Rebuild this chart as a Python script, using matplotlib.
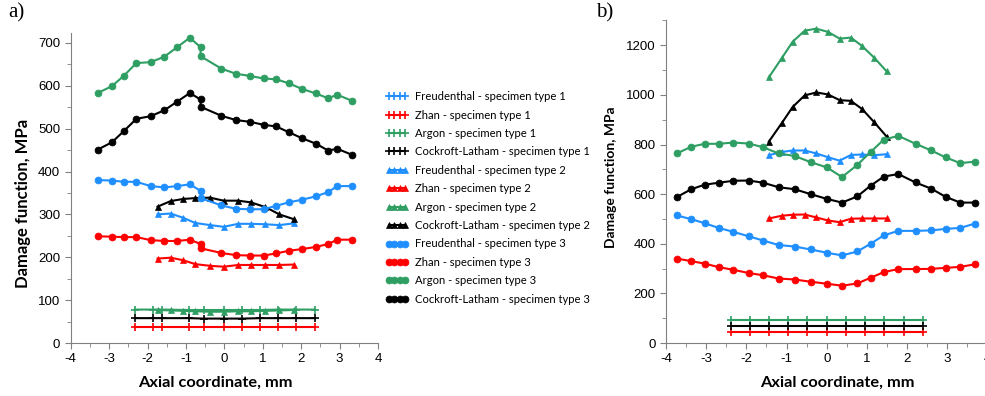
import numpy as np
import matplotlib.pyplot as plt
from matplotlib.ticker import MultipleLocator

# ---- data: panel a) ----
a_x1 = [-2.33, -1.86, -1.62, -0.93, -0.53, 0.0, 0.47, 0.94, 1.40, 1.86, 2.36]
a_freud1 = []
a_zhan1 = [38, 38, 38, 38, 38, 38, 38, 38, 38, 38, 38]
a_argon1 = [78, 78, 78, 77, 77, 77, 77, 77, 78, 78, 78]
a_cl1 = [58, 58, 58, 58, 57, 57, 57, 58, 58, 58, 58]

a_x2 = [-1.74, -1.40, -1.07, -0.76, -0.37, -0.02, 0.36, 0.69, 1.07, 1.43, 1.80]
a_freud2 = [300, 302, 292, 280, 275, 271, 278, 278, 277, 275, 279]
a_zhan2 = [197, 199, 193, 184, 180, 178, 182, 182, 182, 182, 183]
a_argon2 = [77, 76, 75, 74, 73, 73, 74, 74, 75, 76, 77]
a_cl2 = [318, 331, 336, 338, 339, 332, 332, 328, 317, 300, 289]

a_x3 = [-3.30, -2.93, -2.62, -2.29, -1.92, -1.56, -1.23, -0.90, -0.62, -0.62, -0.08,
        0.30, 0.66, 1.02, 1.35, 1.67, 2.01, 2.38, 2.70, 2.94, 3.32]
a_freud3 = [380, 379, 376, 376, 366, 363, 366, 370, 355, 338, 321,
            313, 312, 312, 320, 328, 334, 342, 352, 366, 366]
a_zhan3 = [249, 248, 247, 247, 240, 238, 238, 241, 231, 221, 210,
           205, 204, 204, 209, 215, 219, 224, 231, 241, 241]
a_argon3 = [583, 599, 623, 653, 655, 668, 690, 712, 690, 669, 640,
            628, 623, 617, 615, 606, 593, 582, 571, 579, 565]
a_cl3 = [451, 468, 494, 523, 529, 543, 563, 583, 568, 551, 530,
         520, 516, 509, 505, 492, 478, 465, 449, 453, 439]

# ---- data: panel b) ----
b_x1 = [-2.39, -1.91, -1.43, -0.96, -0.48, 0.0, 0.48, 0.96, 1.43, 1.91, 2.39]
b_freud1 = []
b_zhan1 = [46, 46, 46, 46, 46, 46, 46, 46, 46, 46, 46]
b_argon1 = [94, 94, 94, 94, 94, 94, 94, 94, 94, 94, 94]
b_cl1 = [70, 70, 70, 70, 70, 70, 70, 70, 70, 70, 70]

b_x2 = [-1.44, -1.12, -0.85, -0.55, -0.26, 0.03, 0.32, 0.60, 0.88, 1.18, 1.49]
b_freud2 = [757, 770, 776, 776, 764, 749, 735, 758, 760, 757, 761]
b_zhan2 = [502, 513, 517, 518, 506, 494, 487, 501, 502, 502, 502]
b_argon2 = [1071, 1148, 1214, 1259, 1267, 1254, 1227, 1231, 1197, 1150, 1095]
b_cl2 = [812, 886, 951, 998, 1010, 1002, 979, 976, 943, 890, 832]

b_x3 = [-3.72, -3.37, -3.04, -2.69, -2.32, -1.94, -1.58, -1.20, -0.80, -0.40, 0.0,
        0.38, 0.76, 1.09, 1.42, 1.78, 2.21, 2.60, 2.96, 3.32, 3.68]
b_freud3 = [514, 499, 483, 464, 448, 430, 413, 395, 389, 377, 364,
            353, 369, 400, 434, 452, 452, 454, 460, 464, 481]
b_zhan3 = [340, 330, 320, 306, 295, 282, 273, 260, 256, 247, 239,
           231, 240, 263, 286, 298, 298, 299, 303, 307, 317]
b_argon3 = [765, 791, 803, 803, 808, 804, 789, 764, 754, 729, 708,
            669, 718, 770, 820, 835, 803, 776, 748, 725, 731]
b_cl3 = [589, 620, 638, 646, 654, 655, 646, 628, 620, 600, 581,
         566, 591, 634, 671, 681, 647, 622, 589, 566, 566]

names = ['Freudenthal', 'Zhan', 'Argon', 'Cockroft-Latham']
colors = ['#1f8fff', '#ff0000', '#2e9e62', '#000000']
markers = {1: ('+', 6), 2: ('^', 4), 3: ('o', 5)}

plt.rcParams['font.family'] = 'Liberation Sans'
plt.rcParams['axes.unicode_minus'] = False

fig = plt.figure(figsize=(9.85, 3.96), dpi=100)
ax1 = fig.add_axes([0.0718, 0.1338, 0.312, 0.7828])
ax2 = fig.add_axes([0.6761, 0.1338, 0.3265, 0.8157])

panels = [
    (ax1, {1: (a_x1, [a_freud1, a_zhan1, a_argon1, a_cl1]),
           2: (a_x2, [a_freud2, a_zhan2, a_argon2, a_cl2]),
           3: (a_x3, [a_freud3, a_zhan3, a_argon3, a_cl3])}),
    (ax2, {1: (b_x1, [b_freud1, b_zhan1, b_argon1, b_cl1]),
           2: (b_x2, [b_freud2, b_zhan2, b_argon2, b_cl2]),
           3: (b_x3, [b_freud3, b_zhan3, b_argon3, b_cl3])}),
]

handles = []
for ax, data in panels:
    for t in [1, 2, 3]:
        x, series = data[t]
        m, ms = markers[t]
        for name, col, y in zip(names, colors, series):
            xx = x if len(y) else []
            h, = ax.plot(xx, y, color=col, marker=m, markersize=ms, lw=1.5,
                         markeredgewidth=1.2 if t == 1 else 0.5,
                         label=f'{name} - specimen type {t}')
            if ax is ax1:
                handles.append(h)

for ax, ymax, ystep in [(ax1, 723, 100), (ax2, 1302, 200)]:
    ax.set_xlim(-4, 4)
    ax.set_ylim(0, ymax)
    ax.xaxis.set_major_locator(MultipleLocator(1))
    ax.xaxis.set_minor_locator(MultipleLocator(0.5))
    ax.yaxis.set_major_locator(MultipleLocator(ystep))
    ax.yaxis.set_minor_locator(MultipleLocator(ystep / 2))
    for s in ['top', 'right']:
        ax.spines[s].set_visible(False)
    for s in ['left', 'bottom']:
        ax.spines[s].set_color('#808080')
    ax.tick_params(which='both', direction='out', color='#808080', labelsize=9.5)
    ax.tick_params(which='major', length=4)
    ax.tick_params(which='minor', length=3)

# axis titles placed to match the reference positions
lab = dict(fontweight='bold', family='Lato', ha='center', va='center')
fig.text(0.219, 0.033, 'Axial coordinate, mm', fontsize=11.8, **lab)
fig.text(0.850, 0.033, 'Axial coordinate, mm', fontsize=11.8, **lab)
fig.text(0.023, 0.486, 'Damage function, MPa', rotation=90, fontsize=12, **lab)
fig.text(0.620, 0.552, 'Damage function, MPa', rotation=90, fontsize=10, **lab)

fig.text(0.008, 0.955, 'a)', family='Liberation Serif', fontsize=15)
fig.text(0.605, 0.955, 'b)', family='Liberation Serif', fontsize=15)

fig.legend(handles=handles, loc='upper left', bbox_to_anchor=(0.391, 0.770),
           frameon=False, numpoints=4, handlelength=2.1, handletextpad=0.53,
           labelspacing=0.66, prop={'family': 'Lato', 'size': 8.1},
           borderaxespad=0, borderpad=0)

fig.savefig('out.png', dpi=100)
